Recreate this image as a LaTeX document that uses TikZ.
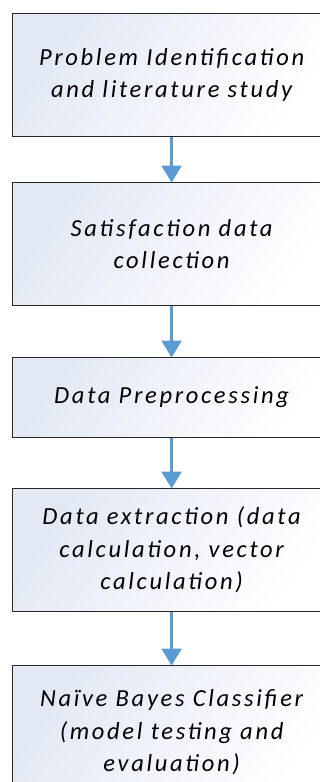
\documentclass[tikz,border=0pt]{standalone}
\usepackage{fontspec}
\newfontfamily\boxfont[LetterSpace=11]{Carlito}
\usetikzlibrary{arrows.meta}
\definecolor{flowblue}{RGB}{91,155,213}
\definecolor{boxtint}{RGB}{226,232,244}
\tikzset{
  stagebox/.style={draw=black!85, line width=1.2pt, rectangle, anchor=north west,
    minimum width=318pt, inner sep=0pt, align=center,
    left color=boxtint, right color=white, shading angle=55,
    font=\boxfont\itshape\fontsize{24.5}{32.5}\selectfont},
  flowarrow/.style={draw=flowblue, line width=2.6pt,
    -{Triangle[width=20pt,length=17pt,fill=flowblue]}, shorten >=-0.5pt}
}
\begin{document}
\begin{tikzpicture}[x=1pt,y=-1pt]
\useasboundingbox (0,0) rectangle (320,782);
\node[stagebox, minimum height=123pt] (b1) at (12,13)
  {Problem Identification\\and literature study};
\node[stagebox, minimum height=123pt] (b2) at (12,182)
  {Satisfaction data\\collection};
\node[stagebox, minimum height=80pt] (b3) at (12,357)
  {Data Preprocessing};
\node[stagebox, minimum height=123pt] (b4) at (12,488)
  {Data extraction (data\\calculation, vector\\calculation)};
\node[stagebox, minimum height=134pt] (b5) at (12,665)
  {Naïve Bayes Classifier\\(model testing and\\evaluation)};
\draw[flowarrow] (b1.south) -- (b2.north);
\draw[flowarrow] (b2.south) -- (b3.north);
\draw[flowarrow] (b3.south) -- (b4.north);
\draw[flowarrow] (b4.south) -- (b5.north);
\end{tikzpicture}
\end{document}
